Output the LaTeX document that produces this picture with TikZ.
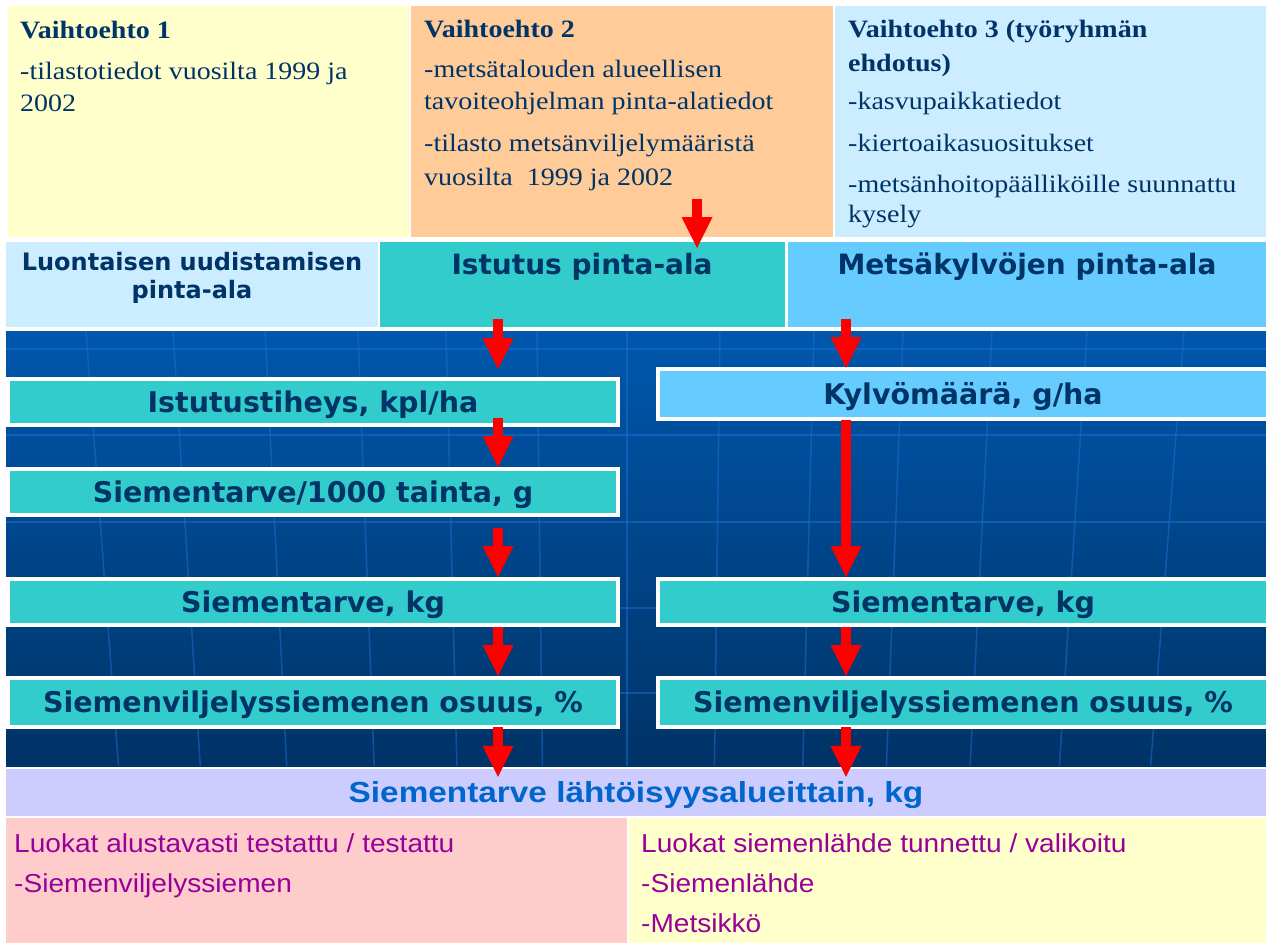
\documentclass[tikz,border=0pt]{standalone}
\usepackage{fontspec}
\usetikzlibrary{arrows.meta,positioning,calc}
\newfontfamily\timesfont[FakeStretch=1.12]{Liberation Serif}
\newfontfamily\verdfont{DejaVu Sans}
\newfontfamily\bandfont[FakeStretch=1.15]{Liberation Sans}
\newfontfamily\classfont[FakeStretch=1.08]{Liberation Sans}
\definecolor{paleyellow}{HTML}{FFFFCC}
\definecolor{paleorange}{HTML}{FFCC99}
\definecolor{paleblue}{HTML}{CCECFF}
\definecolor{tealbox}{HTML}{33CCCC}
\definecolor{skyblue}{HTML}{66CCFF}
\definecolor{lavender}{HTML}{CCCCFF}
\definecolor{palepink}{HTML}{FFCCCC}
\definecolor{textnavy}{HTML}{003366}
\definecolor{bandblue}{HTML}{0066CC}
\definecolor{classpurple}{HTML}{990099}
\definecolor{arrowred}{HTML}{FF0000}
\definecolor{bgtop}{HTML}{0057AD}
\definecolor{bgbottom}{HTML}{003366}
\definecolor{gridblue}{HTML}{1F6FD6}

\begin{document}
\begin{tikzpicture}[x=1pt, y=-1pt,
    optbox/.style={anchor=north west, inner sep=0pt, outer sep=0pt},
    opttext/.style={anchor=base west, inner sep=0pt, align=left, text=textnavy,
      font=\timesfont\fontsize{25}{33}\selectfont},
    areabox/.style={inner sep=0pt, outer sep=0pt, minimum height=85pt},
    areatext/.style={anchor=base, inner sep=0pt, align=center, text=textnavy,
      font=\verdfont\bfseries\fontsize{28}{30}\selectfont},
    stepbox/.style={draw=white, line width=4pt, fill=tealbox, inner sep=0pt,
      minimum width=610pt, minimum height=46pt, text height=20pt, text depth=0pt,
      text=textnavy, font=\verdfont\bfseries\fontsize{28.5}{30}\selectfont},
    classtext/.style={anchor=base west, inner sep=0pt, align=left, text=classpurple,
      font=\classfont\fontsize{26}{40}\selectfont},
    flow/.style={draw=arrowred, line width=10pt,
      -{Triangle[length=31pt, width=31pt, line width=0pt]}},
    gridline/.style={draw=gridblue, line width=1.5pt, opacity=0.5}]
  \useasboundingbox (0,0) rectangle (1266,947);
  \fill[white] (0,0) rectangle (1266,947);

  % three alternatives
  \node[optbox, fill=paleyellow, minimum width=401pt, minimum height=231pt] (opt1) at (8,6) {};
  \node[optbox, fill=paleorange, minimum width=422pt, minimum height=231pt] (opt2) at (411,6) {};
  \node[optbox, fill=paleblue, minimum width=431pt, minimum height=231pt] (opt3) at (835,6) {};
  \node[opttext] (opt1txt) at (20,112) {\textbf{Vaihtoehto 1}\\[7pt]
    -tilastotiedot vuosilta 1999 ja\\2002};
  \node[opttext] (opt2txt) at (424,185) {\textbf{Vaihtoehto 2}\\[7pt]
    -metsätalouden alueellisen\\tavoiteohjelman pinta-alatiedot\\[9pt]
    -tilasto metsänviljelymääristä\\vuosilta\ \ 1999 ja 2002};
  \node[opttext] (opt3txt) at (848,222) {\textbf{Vaihtoehto 3 (työryhmän}\\\textbf{ehdotus)}\\[5pt]
    -kasvupaikkatiedot\\[9pt]-kiertoaikasuositukset\\[8pt]
    -metsänhoitopäälliköille suunnattu\\[-3pt]kysely};

  % areas
  \node[areabox, fill=paleblue, minimum width=372pt] (natural) at (192,284.5) {};
  \node[areabox, fill=tealbox, minimum width=405pt] (planting) at (582.5,284.5) {};
  \node[areabox, fill=skyblue, minimum width=478pt] (sowing) at (1027,284.5) {};
  \node[areatext, font=\verdfont\bfseries\fontsize{24}{28}\selectfont] (naturaltxt) at (192,298)
    {Luontaisen uudistamisen\\pinta-ala};
  \node[areatext] (plantingtxt) at (582,274) {Istutus pinta-ala};
  \node[areatext] (sowingtxt) at (1027,274) {Metsäkylvöjen pinta-ala};

  % background
  \shade[top color=bgtop, bottom color=bgbottom] (6,331) rectangle (1266,766);
  \foreach \gy in {349,435,522,608,693}
    \draw[gridline] (6,\gy) -- (1266,\gy);
  \foreach \gx in {86,173,265,358,446,537,627,720,814,903,992,1087,1184}{
    \pgfmathsetmacro\gd{(627-\gx)*0.06}
    \draw[gridline] (\gx,331) -- (\gx+\gd,766);
  }

  % calculation steps
  \node[stepbox] (density) at (313,402) {Istutustiheys, kpl/ha};
  \node[stepbox] (seedper) at (313,492) {Siementarve/1000 tainta, g};
  \node[stepbox] (needleft) at (313,602) {Siementarve, kg};
  \node[stepbox, minimum height=49pt] (shareleft) at (313,702.5) {Siemenviljelyssiemenen osuus, \%};
  \node[stepbox, fill=skyblue, minimum height=50pt] (rate) at (963,394) {Kylvömäärä, g/ha};
  \node[stepbox] (needright) at (963,602) {Siementarve, kg};
  \node[stepbox, minimum height=49pt] (shareright) at (963,702.5) {Siemenviljelyssiemenen osuus, \%};

  \node[inner sep=0pt, fill=lavender, minimum width=1260pt, minimum height=47pt,
    text height=20pt, text depth=0pt, text=bandblue,
    font=\bandfont\bfseries\fontsize{29}{30}\selectfont] (total) at (636,792.5)
    {Siementarve lähtöisyysalueittain, kg};

  % seed classes
  \node[optbox, fill=palepink, minimum width=621pt, minimum height=125pt] (tested) at (6,818) {};
  \node[optbox, fill=paleyellow, minimum width=637pt, minimum height=125pt] (known) at (629,818) {};
  \node[classtext] (testedtxt) at (14,892) {Luokat alustavasti testattu / testattu\\-Siemenviljelyssiemen};
  \node[classtext] (knowntxt) at (641,932) {Luokat siemenlähde tunnettu / valikoitu\\-Siemenlähde\\-Metsikkö};

  % arrows
  \coordinate (xa) at (697,0);
  \coordinate (xl) at (498,0);
  \coordinate (xr) at (846,0);
  \draw[flow] ($(opt2.south -| xa)+(0,-38)$) -- ($(planting.north -| xa)+(0,6)$);
  \draw[flow] ($(planting.south -| xl)+(0,-8)$) -- ($(density.north -| xl)+(0,-8)$);
  \draw[flow] ($(sowing.south -| xr)+(0,-8)$) -- ($(rate.north -| xr)+(0,1)$);
  \draw[flow] ($(density.south -| xl)+(0,-9)$) -- (seedper.north -| xl);
  \draw[flow] ($(seedper.south -| xl)+(0,11)$) -- (needleft.north -| xl);
  \draw[flow] (needleft.south -| xl) -- (shareleft.north -| xl);
  \draw[flow] ($(rate.south -| xr)+(0,-1)$) -- (needright.north -| xr);
  \draw[flow] (needright.south -| xr) -- (shareright.north -| xr);
  \draw[flow] ($(shareleft.south -| xl)+(0,-2)$) -- ($(total.north -| xl)+(0,8)$);
  \draw[flow] ($(shareright.south -| xr)+(0,-2)$) -- ($(total.north -| xr)+(0,8)$);
\end{tikzpicture}
\end{document}
